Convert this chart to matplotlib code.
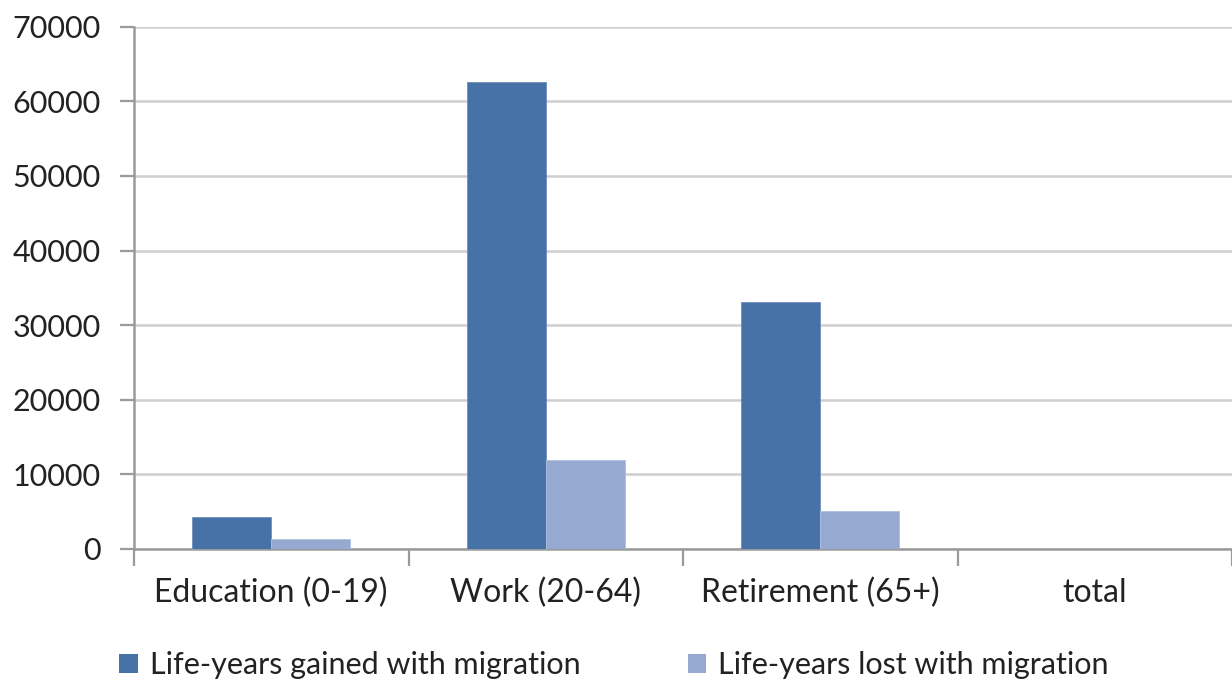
import matplotlib
matplotlib.use("Agg")
import matplotlib.pyplot as plt
import numpy as np
from matplotlib.patches import Patch

categories = ["Education (0-19)", "Work (20-64)", "Retirement (65+)", "total"]
gained = [4330, 62550, 33150, 0]
lost = [1340, 11930, 5090, 0]
series_names = ["Life-years gained with migration", "Life-years lost with migration"]
yticks = [0, 10000, 20000, 30000, 40000, 50000, 60000, 70000]

plt.rcParams["font.family"] = ["Lato", "DejaVu Sans"]

c_gained = "#4672A7"
c_lost = "#95A9D1"
text_c = "#222222"
axis_c = "#9A9A9A"
grid_c = "#CFCFCF"

fig = plt.figure(figsize=(12.32, 6.81), dpi=100)
ax = fig.add_axes([134 / 1232, 1 - 549 / 681, 1 - 134 / 1232, (549 - 26.7) / 681])

x = np.arange(len(categories))
w = 0.2875
ax.bar(x - w / 2, gained, width=w, color=c_gained, edgecolor="#6E8FBC", linewidth=0.6, zorder=3)
ax.bar(x + w / 2, lost, width=w, color=c_lost, edgecolor="#AFBFDD", linewidth=0.6, zorder=3)

ax.set_xlim(-0.5, len(categories) - 0.5)
ax.set_ylim(0, 70000)
ax.set_yticks(yticks)
ax.set_yticklabels([str(v) for v in yticks], fontsize=22, color=text_c)
ax.yaxis.grid(True, color=grid_c, linewidth=1.8, zorder=0)
ax.set_axisbelow(True)

# category labels centered, tick marks at category boundaries
ax.set_xticks(x)
ax.set_xticklabels(categories, fontsize=23, color=text_c)
ax.tick_params(axis="x", length=0, pad=21)
ax.set_xticks(np.arange(-0.5, len(categories) - 0.5 + 0.01, 1.0), minor=True)
ax.tick_params(axis="x", which="minor", length=12, width=1.6, color=axis_c, direction="out")
ax.tick_params(axis="y", length=10, width=1.6, color=axis_c, direction="out", pad=14)

for side in ["top", "right"]:
    ax.spines[side].set_visible(False)
for side in ["left", "bottom"]:
    ax.spines[side].set_color(axis_c)
    ax.spines[side].set_linewidth(1.8)

handles = [Patch(facecolor=c_gained, edgecolor="none"), Patch(facecolor=c_lost, edgecolor="none")]
fig.legend(handles, series_names, loc="center", bbox_to_anchor=(614 / 1232, 1 - 665 / 681),
           ncol=2, frameon=False, fontsize=22, labelcolor=text_c,
           handlelength=0.6, handleheight=0.6, handletextpad=0.4, columnspacing=3.5)

fig.savefig("out.png", dpi=100)
